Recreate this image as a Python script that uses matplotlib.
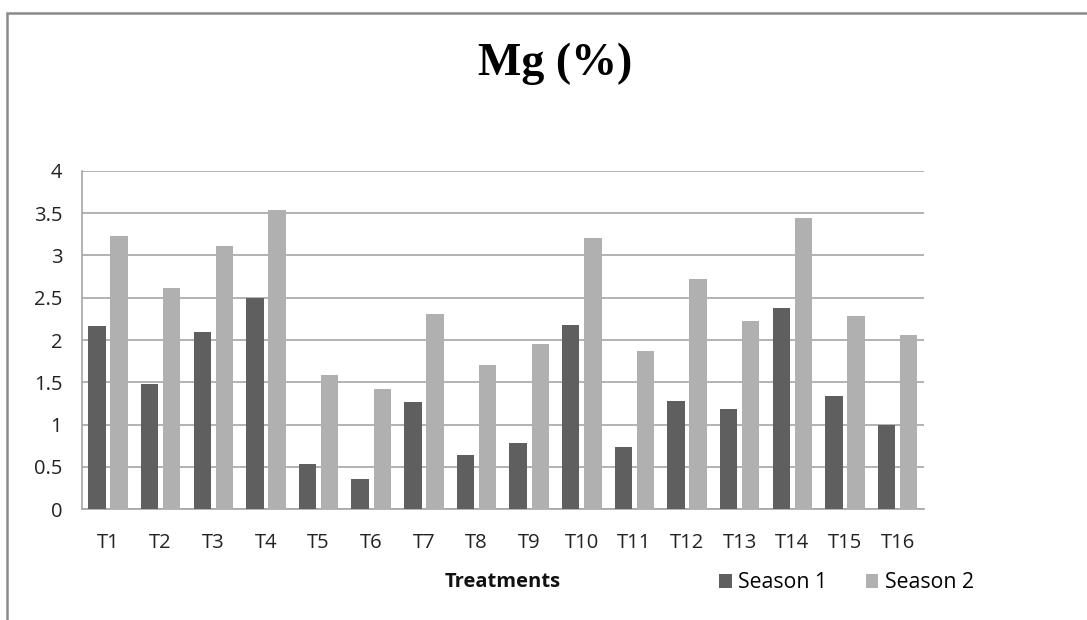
import matplotlib
matplotlib.use("Agg")
import matplotlib.pyplot as plt
import numpy as np
from matplotlib.patches import Rectangle, Patch

categories = ["T1", "T2", "T3", "T4", "T5", "T6", "T7", "T8",
              "T9", "T10", "T11", "T12", "T13", "T14", "T15", "T16"]
season1 = [2.16, 1.48, 2.09, 2.50, 0.54, 0.36, 1.27, 0.64,
           0.78, 2.18, 0.74, 1.28, 1.18, 2.38, 1.34, 1.00]
season2 = [3.23, 2.62, 3.11, 3.54, 1.59, 1.42, 2.31, 1.70,
           1.95, 3.20, 1.87, 2.72, 2.22, 3.44, 2.28, 2.06]
yticks = [0, 0.5, 1, 1.5, 2, 2.5, 3, 3.5, 4]
ytick_labels = ["0", "0.5", "1", "1.5", "2", "2.5", "3", "3.5", "4"]

W, H = 1087, 620
fig = plt.figure(figsize=(W / 100, H / 100), dpi=100)
fig.patch.set_facecolor("white")

ax = fig.add_axes([81.7 / W, 1 - 509.3 / H, (924 - 81.7) / W, (509.3 - 170.7) / H])

x = np.arange(len(categories))
c1, c2 = "#5f5f5f", "#b0b0b0"
bw = 0.33
ax.bar(x - 0.21, season1, width=bw, color=c1, zorder=3)
ax.bar(x + 0.21, season2, width=bw, color=c2, zorder=3)

ax.set_xlim(-0.5, len(categories) - 0.5)
ax.set_ylim(0, 4)
ax.set_yticks(yticks)
ax.set_yticklabels(ytick_labels)
ax.set_xticks(x)
ax.set_xticklabels(categories)

grid_c = "#a6a6a6"
ax.yaxis.grid(True, color=grid_c, linewidth=1.2, zorder=0)
ax.set_axisbelow(True)
for s in ["top", "right"]:
    ax.spines[s].set_visible(False)
for s in ["left", "bottom"]:
    ax.spines[s].set_color(grid_c)
    ax.spines[s].set_linewidth(1.2)

font = "Open Sans"
ax.tick_params(axis="both", length=0, labelsize=14.5, labelcolor="#222222")
ax.tick_params(axis="y", pad=14)
ax.tick_params(axis="x", pad=17)
for lab in ax.get_xticklabels() + ax.get_yticklabels():
    lab.set_fontfamily(font)

fig.text(555 / W, 1 - 64 / H, "Mg (%)", ha="center", va="center",
         fontsize=33, fontweight="bold", family="Liberation Serif")

fig.text(503 / W, 1 - 582 / H, "Treatments", ha="center", va="center",
         fontsize=14.5, fontweight="bold", family=font, color="#111111")

handles = [Patch(facecolor=c1, edgecolor="none"), Patch(facecolor=c2, edgecolor="none")]
fig.legend(handles, ["Season 1", "Season 2"], ncol=2, frameon=False,
           loc="center left", bbox_to_anchor=(719 / W, 1 - 583 / H),
           bbox_transform=fig.transFigure, borderpad=0, borderaxespad=0,
           handlelength=0.6, handleheight=0.6, handletextpad=0.3,
           columnspacing=1.8, prop={"family": font, "size": 15.3})

fig.patches.append(Rectangle((7 / W, -0.1), 1.2, 1 - 13 / H + 0.1,
                             transform=fig.transFigure, fill=False,
                             edgecolor="#8a8a8a", linewidth=1.8))

fig.savefig("out.png", dpi=100, facecolor="white")
